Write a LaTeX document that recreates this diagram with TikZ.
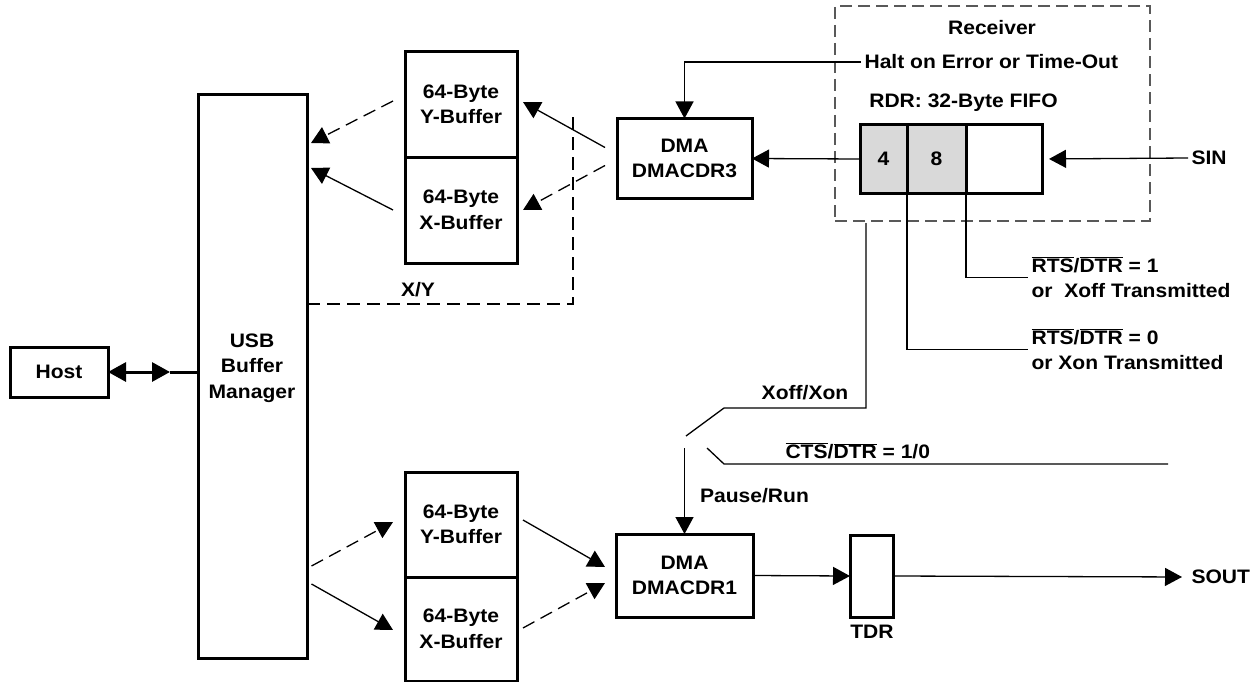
\documentclass[tikz,border=0pt]{standalone}
\usepackage{fontspec}
\setmainfont{Liberation Sans}[FakeStretch=1.08]
\usetikzlibrary{positioning,arrows.meta,calc}
\newcommand{\barsig}[1]{$\overline{\mbox{#1}}$}

\begin{document}
\begin{tikzpicture}
[x=1pt, y=-1pt, align=center,
    font=\bfseries\fontsize{19.5}{25.5}\selectfont,
    >={Triangle[length=17pt,width=18pt]},
    box/.style={draw=black, line width=3pt, rectangle, outer sep=0pt, inner sep=0pt},
    cell/.style={box, minimum width=#1, minimum height=68pt},
    conn/.style={draw=black, line width=1.3pt},
    dashconn/.style={conn, dash pattern=on 13pt off 7pt},
    hostarrow/.style={line width=3pt, {Triangle[length=18pt,width=19pt]}-{Triangle[length=18pt,width=19pt]}},
    ]

    \useasboundingbox (0,0) rectangle (1260,682);

    \node[box, minimum width=98pt, minimum height=50pt] (host) at (59,372) {Host};
    \node[box, minimum width=109pt, minimum height=563pt] (usb) at (252.5,376.5) {};
    \node (usb_txt) at (252,368) {USB\\Buffer\\Manager};

    % receive side
    \node[box, minimum width=112pt, minimum height=105pt] (ybuf_up) at (461,104.5) {64-Byte\\Y-Buffer};
    \node[box, minimum width=112pt, minimum height=106pt, below=0pt of ybuf_up] (xbuf_up) {64-Byte\\X-Buffer};
    \node[box, minimum width=135pt, minimum height=80pt] (dma3) at (684.5,158.5) {DMA\\DMACDR3};

    \node[draw=black!65, line width=1.3pt, dash pattern=on 12pt off 6pt,
          minimum width=315pt, minimum height=215pt, outer sep=0pt] (rcv) at (992.5,113.5) {};
    \node (rcv_title) at (992,28) {Receiver};
    \node[anchor=west] (halt) at (861,62) {Halt on Error or Time-Out};
    \node (rdr) at (963.5,103) {RDR: 32-Byte FIFO};
    \node[cell=47pt, fill=black!15] (four) at (883.5,159) {4};
    \node[cell=59pt, fill=black!15, right=0pt of four] (eight) {8};
    \node[cell=76pt, right=0pt of eight] (empty) {};
    \node[anchor=west] (sin) at (1188,158) {SIN};
    \node[anchor=west, align=left] (rts1) at (1028,277.5) {\barsig{RTS}/\barsig{DTR} = 1\\or~ Xoff Transmitted};
    \node[anchor=west, align=left] (rts0) at (1028,349.5) {\barsig{RTS}/\barsig{DTR} = 0\\or Xon Transmitted};

    % transmit side
    \node (xoff_lbl) at (805,393) {Xoff/Xon};
    \node[anchor=west] (cts_lbl) at (782,451) {\barsig{CTS}/\barsig{DTR} = 1/0};
    \node (pause_lbl) at (754.5,496) {Pause/Run};
    \node[box, minimum width=112pt, minimum height=105pt] (ybuf_dn) at (461,524.5) {64-Byte\\Y-Buffer};
    \node[box, minimum width=112pt, minimum height=104pt, below=0pt of ybuf_dn] (xbuf_dn) {64-Byte\\X-Buffer};
    \node[box, minimum width=137pt, minimum height=83pt] (dma1) at (684.5,575.5) {DMA\\DMACDR1};
    \node[box, minimum width=43pt, minimum height=82pt] (tdr) at (871.5,576) {};
    \node (tdr_lbl) at (872,632) {TDR};
    \node[anchor=west] (sout) at (1188,577) {SOUT};

    \coordinate (host_in) at (170,372);
    \coordinate (xy_top) at (573,117);
    \coordinate (sw) at (686,436);
    \coordinate (cts_end) at (1168,464);

    \draw[hostarrow] (host.east) -- (host_in);
    \draw[line width=3pt] (host_in) -- (usb.west |- host_in);

    \draw[conn, ->] ($(dma3.west)+(-12,-11)$) -- ($(ybuf_up.east)+(6,-2.5)$);
    \draw[dashconn, ->] ($(dma3.west)+(-12,7)$) -- ($(xbuf_up.east)+(6,0)$);
    \draw[dashconn, ->] ($(ybuf_up.west)+(-12,-3.5)$) -- ($(usb.north east)+(4,48)$);
    \draw[conn, ->] ($(xbuf_up.west)+(-12,0)$) -- ($(usb.north east)+(4,73)$);
    \draw[dashconn] (usb.east |- 0,304) -| (xy_top);
    \node (xy_lbl) at (418,290) {X/Y};

    \draw[conn, ->] (halt.west) -| (dma3.north);
    \draw[conn, ->] (four.west) -- (dma3.east);
    \draw[conn, ->, shorten >=7pt] (sin.west) -- (empty.east);
    \draw[conn] (empty.south west) |- (rts1.west);
    \draw[conn] (four.south east) |- (rts0.west);

    % flow control switch
    \draw[conn] ($(rcv.south west)+(31,2)$) |- ($(sw)+(38,-28)$) -- (sw);
    \draw[conn] (cts_end) -- ($(sw)+(38,28)$) -- ($(sw)+(21,12)$);
    \draw[conn, ->] ($(dma1.north |- sw)+(0,12)$) -- (dma1.north);

    \draw[dashconn, ->] ($(usb.south east)+(4.5,-92)$) -- ($(ybuf_dn.west)+(-12,-2.5)$);
    \draw[conn, ->] ($(usb.south east)+(4.5,-74)$) -- ($(xbuf_dn.west)+(-12,1)$);
    \draw[conn, ->] ($(ybuf_dn.east)+(6,-4.5)$) -- ($(dma1.west)+(-11,-8.5)$);
    \draw[dashconn, ->] ($(xbuf_dn.east)+(6,-1)$) -- ($(dma1.west)+(-11,7.5)$);
    \draw[conn, ->] (dma1.east) -- (tdr.west);
    \draw[conn, ->, shorten >=6pt] (tdr.east) -- (sout.west);

\end{tikzpicture}
\end{document}
